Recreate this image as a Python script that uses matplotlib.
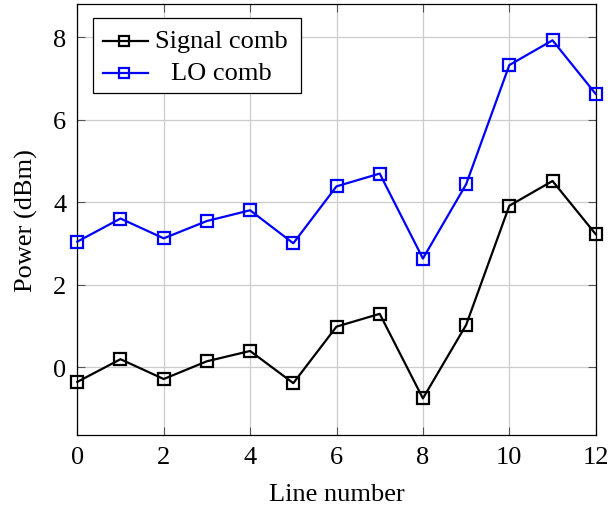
import matplotlib.pyplot as plt
from matplotlib.patches import Rectangle

# comb line powers
line_number = [0, 1, 2, 3, 4, 5, 6, 7, 8, 9, 10, 11, 12]
signal_comb = [-0.35, 0.20, -0.28, 0.15, 0.40, -0.38, 0.99, 1.30, -0.75, 1.03, 3.92, 4.52, 3.23]
lo_comb = [3.05, 3.61, 3.13, 3.55, 3.81, 3.01, 4.39, 4.70, 2.64, 4.44, 7.33, 7.93, 6.63]
labels = ["Signal comb", "LO comb"]
colors = ["black", "blue"]

plt.rcParams['font.family'] = ['Liberation Serif', 'DejaVu Serif']
plt.rcParams['mathtext.fontset'] = 'stix'

fig = plt.figure(figsize=(6.1, 5.06), dpi=100)
ax = fig.add_axes([0.1267, 0.1389, 0.8499, 0.8512])

for ys, c in zip([signal_comb, lo_comb], colors):
    ax.plot(line_number, ys, color=c, lw=1.6, marker='s', ms=8,
            mfc='none', mec=c, mew=1.6, zorder=3, clip_on=False)

ax.set_xlim(0, 12)
ax.set_ylim(-1.63, 8.81)
ax.set_xticks(range(0, 13, 2))
ax.set_yticks(range(0, 9, 2))
ax.grid(True, color='#cccccc', lw=0.9)
ax.set_axisbelow(True)
ax.tick_params(direction='in', length=6, width=0.8, color='#555555',
               top=True, right=True, labelsize=19, pad=8)
for s in ax.spines.values():
    s.set_linewidth(0.9)
ax.set_xlabel("Line number", fontsize=19, labelpad=11)
ax.set_ylabel("Power (dBm)", fontsize=19, labelpad=11)

# legend box, pgfplots style with centred text
ax.add_patch(Rectangle((0.0309, 0.7927), 0.4006, 0.1748, transform=ax.transAxes,
                       facecolor='white', edgecolor='black', lw=0.9, zorder=5))
rows = [0.9148, 0.8398]
for lab, c, yr in zip(labels, colors, rows):
    ax.plot([0.0488, 0.1356], [yr, yr], color=c, lw=1.6, transform=ax.transAxes,
            zorder=6, clip_on=False)
    ax.plot([0.0893], [yr], color=c, marker='s', ms=7.5, mfc='none', mec=c,
            mew=1.6, transform=ax.transAxes, zorder=6, clip_on=False)
    ax.text(0.2772, yr, lab, transform=ax.transAxes, ha='center', va='center',
            fontsize=19, zorder=7)

fig.savefig("out.png", dpi=100)
